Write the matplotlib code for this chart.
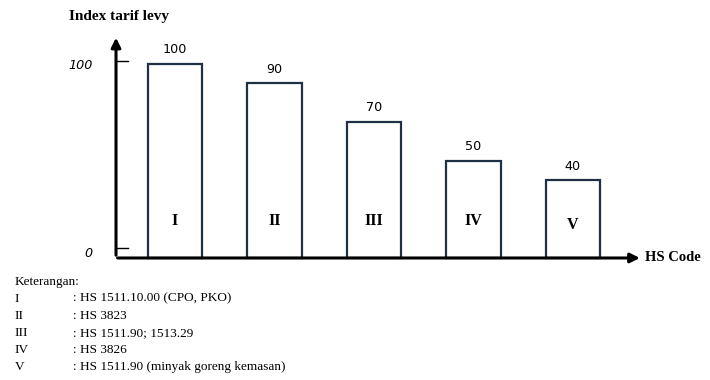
import matplotlib.pyplot as plt

codes = ["I", "II", "III", "IV", "V"]
levy_index = [100, 90, 70, 50, 40]
notes = [": HS 1511.10.00 (CPO, PKO)", ": HS 3823", ": HS 1511.90; 1513.29",
         ": HS 3826", ": HS 1511.90 (minyak goreng kemasan)"]
y_ticks = [0, 100]

fig = plt.figure(figsize=(7.1, 3.8), dpi=100)
ax = fig.add_axes([0, 0, 1, 1])
ax.set_xlim(-1.759, 5.377)
ax.set_ylim(-62.9, 133.0)
ax.axis("off")

navy = "#1f3044"
x = list(range(len(codes)))
ax.bar(x, levy_index, width=0.55, facecolor="white", edgecolor=navy, linewidth=1.6, zorder=2)

for xi, v, c in zip(x, levy_index, codes):
    ax.text(xi, v + 4, str(v), ha="center", va="bottom", fontsize=9.2, family="DejaVu Sans")
    ax.text(xi, 19 if c != "V" else 17, c, ha="center", va="center", fontsize=11.5,
            fontweight="bold", family="Liberation Serif")

# axes with arrows
ax.annotate("", xy=(-0.593, 115), xytext=(-0.593, 0),
            arrowprops=dict(arrowstyle="-|>", lw=2.2, color="black", mutation_scale=14), zorder=3)
ax.annotate("", xy=(4.70, 0), xytext=(-0.605, 0),
            arrowprops=dict(arrowstyle="-|>", lw=2.2, color="black", mutation_scale=14), zorder=3)

tick_pos = {0: 5, 100: 101.5}
for t in y_ticks:
    yy = tick_pos[t]
    ax.plot([-0.593, -0.47], [yy, yy], color="black", lw=1, zorder=3)
    ax.text(-0.83, yy - 2.5, str(t), ha="right", va="center", fontsize=9.2,
            style="italic", family="DejaVu Sans")

ax.text(-1.07, 124.5, "Index tarif levy", ha="left", va="center", fontsize=11,
        fontweight="bold", family="Liberation Serif")
ax.text(4.72, 0, "HS Code", ha="left", va="center", fontsize=10.5,
        fontweight="bold", family="Liberation Serif")

# legend notes
ax.text(-1.61, -12.4, "Keterangan:", ha="left", va="center", fontsize=9.5, family="Liberation Serif")
for i, (c, n) in enumerate(zip(codes, notes)):
    yy = -21.0 - i * 8.85
    ax.text(-1.61, yy, c, ha="left", va="center", fontsize=9.5, family="Liberation Serif")
    ax.text(-1.03, yy, n, ha="left", va="center", fontsize=9.5, family="Liberation Serif")

fig.savefig("out.png", dpi=100, facecolor="white")
